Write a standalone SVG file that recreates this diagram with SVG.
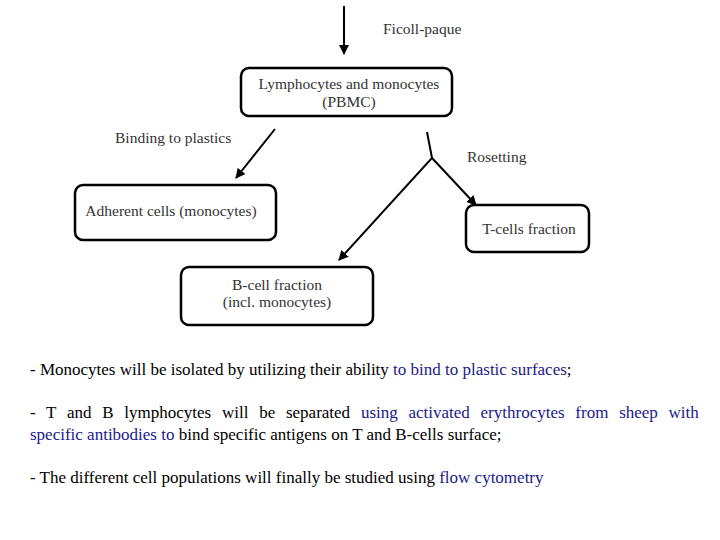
<svg xmlns="http://www.w3.org/2000/svg" width="720" height="540" viewBox="0 0 720 540" font-family="'Liberation Serif', 'DejaVu Serif', serif">
<style>
text{font-family:'Liberation Serif','DejaVu Serif',serif}
.box{fill:#fff;stroke:#000;stroke-width:2.5}
.t{font-size:15.5px;fill:#333;text-anchor:middle}
.l{font-size:15.5px;fill:#333}
.c{stroke:#000;stroke-width:2;fill:none}
.p{font-size:17px;fill:#000}
.b{fill:#1a1a8c}
</style>
<defs><marker id="a" viewBox="0 0 10 10" refX="9" refY="5" markerWidth="5" markerHeight="5" orient="auto"><path d="M0,0L10,5L0,10z" fill="#000"/></marker></defs>
<rect width="720" height="540" fill="#fff"/>
<g id="connectors">
<line class="c" x1="344" y1="6" x2="344" y2="54" marker-end="url(#a)"/>
<line class="c" x1="275" y1="129" x2="236" y2="178" marker-end="url(#a)"/>
<polyline class="c" points="427,132 432,158 339,260" marker-end="url(#a)"/>
<line class="c" x1="432" y1="158" x2="476" y2="205" marker-end="url(#a)"/>
</g>
<g id="labels">
<text class="l" x="383" y="34">Ficoll-paque</text>
<text class="l" x="115" y="143">Binding to plastics</text>
<text class="l" x="467" y="162">Rosetting</text>
</g>
<g id="pbmc"><rect class="box" x="241" y="68" width="211" height="48" rx="8"/>
<text class="t" x="349" y="89">Lymphocytes and monocytes</text><text class="t" x="349" y="107">(PBMC)</text></g>
<g id="adherent"><rect class="box" x="75" y="185" width="201" height="55" rx="8"/>
<text class="t" x="171" y="216">Adherent cells (monocytes)</text></g>
<g id="tcells"><rect class="box" x="466" y="205" width="123" height="47" rx="8"/>
<text class="t" x="529" y="234">T-cells fraction</text></g>
<g id="bcell"><rect class="box" x="181" y="267" width="192" height="58" rx="8"/>
<text class="t" x="277" y="290">B-cell fraction</text><text class="t" x="277" y="307">(incl. monocytes)</text></g>
<g id="text">
<text class="p" x="30" y="375">- Monocytes will be isolated by utilizing their ability <tspan class="b">to bind to plastic surfaces</tspan>;</text>
<text class="p" x="30" y="418" word-spacing="6.5">- T and B lymphocytes will be separated <tspan class="b">using activated erythrocytes from sheep with</tspan></text>
<text class="p" x="30" y="440"><tspan class="b">specific antibodies to</tspan> bind specific antigens on T and B-cells surface;</text>
<text class="p" x="30" y="483">- The different cell populations will finally be studied using <tspan class="b">flow cytometry</tspan></text>
</g>
</svg>
